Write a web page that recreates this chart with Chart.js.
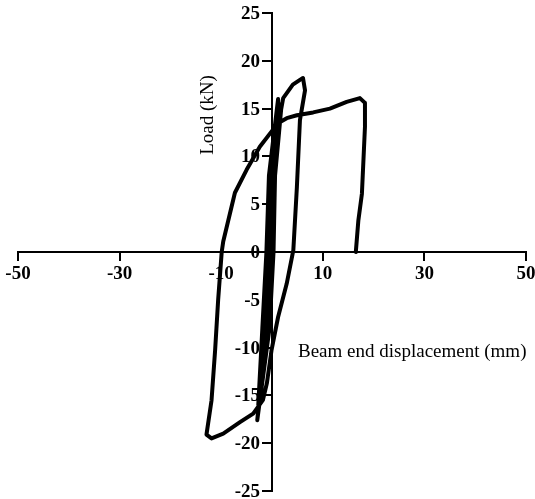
<!DOCTYPE html>
<html>
<head>
<meta charset="utf-8">
<script src="https://cdn.jsdelivr.net/npm/chart.js@4/dist/chart.umd.min.js"></script>
<style>
    body { margin: 0; background: #fff; }
    #chart { display: block; }
</style>
</head>
<body>
<canvas id="chart" width="535" height="499"></canvas>
<script>
// Beam end displacement (mm) and load (kN)
const displacement = [
    0, 0.6, 1.3, 1.9,
    0.6, -0.1, -0.7, -1.5, -2.7,
    -1.9, -1.1, -0.6, 0.3, 1.2,
    1.1, 0.6, 0.3, -0.5, -2.9,
    -1.2, -0.3, 0.1, 0.8, 2.2,
    4.1, 5.5, 6.1, 6.5, 5.5, 4.9, 4.2, 2.9, 1.2, -0.1, -1.0, -1.8,
    -3.7, -6.3, -9.6, -11.9, -12.9,
    -11.9, -11.2, -10.6, -9.9, -9.6, -7.3, -5.0, -2.4, 0.2, 1.6, 2.9, 4.9,
    8.1, 11.4, 14.7, 17.3, 18.3, 18.3, 17.7, 17.0, 16.5
];
const load = [
    0, 8, 12, 15.5,
    12, 8, 0, -8, -16,
    -8, 0, 8, 12, 16.0,
    12, 8, 0, -8, -17.6,
    -8, 0, 8, 12, 16.1,
    17.5, 18.0, 18.2, 16.9, 13.8, 6.8, 0.2, -3.3, -6.8, -10.3, -13.7, -15.5,
    -16.9, -17.8, -19.0, -19.5, -19.1,
    -15.5, -10.3, -5.0, 0, 1.1, 6.2, 8.6, 11.0, 12.8, 13.6, 14.0, 14.3,
    14.6, 15.0, 15.7, 16.1, 15.6, 13.1, 6.1, 3.3, 0
];
const xTicks = [-50, -30, -10, 10, 30, 50];
const yTicks = [-25, -20, -15, -10, -5, 0, 5, 10, 15, 20, 25];

const FONT = 'Liberation Serif, Times New Roman, serif';

// y labels and the two titles, placed next to the crossing axes
const axisText = {
    id: 'axisText',
    afterDraw(chart) {
        const ctx = chart.ctx;
        const xs = chart.scales.x;
        const ys = chart.scales.y;
        const axisX = xs.getPixelForValue(0);
        ctx.save();
        ctx.fillStyle = '#000';
        ctx.font = 'bold 19px ' + FONT;
        ctx.textAlign = 'right';
        ctx.textBaseline = 'middle';
        yTicks.forEach(v => {
            ctx.fillText(String(v), axisX - 12, ys.getPixelForValue(v) + 1);
        });

        ctx.font = '19px ' + FONT;
        ctx.textAlign = 'left';
        ctx.fillText('Beam end displacement (mm)', 298, 352);
        ctx.translate(208, 115);
        ctx.rotate(-Math.PI / 2);
        ctx.textAlign = 'center';
        ctx.fillText('Load (kN)', 0, 0);
        ctx.restore();
    }
};

const noPad = scale => {
    scale.paddingLeft = 0;
    scale.paddingRight = 0;
    scale.paddingTop = 0;
    scale.paddingBottom = 0;
};

new Chart(document.getElementById('chart'), {
    type: 'scatter',
    data: {
        datasets: [{
            data: displacement.map((d, i) => ({ x: d, y: load[i] })),
            showLine: true,
            borderColor: '#000',
            borderWidth: 4,
            pointRadius: 0,
            tension: 0,
            borderJoinStyle: 'round',
            borderCapStyle: 'round'
        }]
    },
    options: {
        responsive: false,
        animation: false,
        layout: { padding: { left: 18, right: 9, top: 13, bottom: 8 } },
        plugins: { legend: { display: false }, tooltip: { enabled: false } },
        scales: {
            x: {
                type: 'linear',
                position: { y: 0 },
                min: -50,
                max: 50,
                afterBuildTicks: s => { s.ticks = xTicks.map(v => ({ value: v })); },
                afterFit: noPad,
                border: { color: '#000', width: 2 },
                grid: { drawOnChartArea: false, drawTicks: true, tickLength: 8, color: '#000', lineWidth: 2 },
                ticks: { color: '#000', padding: 3, maxRotation: 0, font: { family: FONT, size: 19, weight: 'bold' } }
            },
            y: {
                type: 'linear',
                position: { x: 0 },
                min: -25,
                max: 25,
                afterBuildTicks: s => { s.ticks = yTicks.map(v => ({ value: v })); },
                afterFit: noPad,
                border: { color: '#000', width: 2 },
                grid: { drawOnChartArea: false, drawTicks: true, tickLength: 9, color: '#000', lineWidth: 2 },
                ticks: { display: false }
            }
        }
    },
    plugins: [axisText]
});
</script>
</body>
</html>
